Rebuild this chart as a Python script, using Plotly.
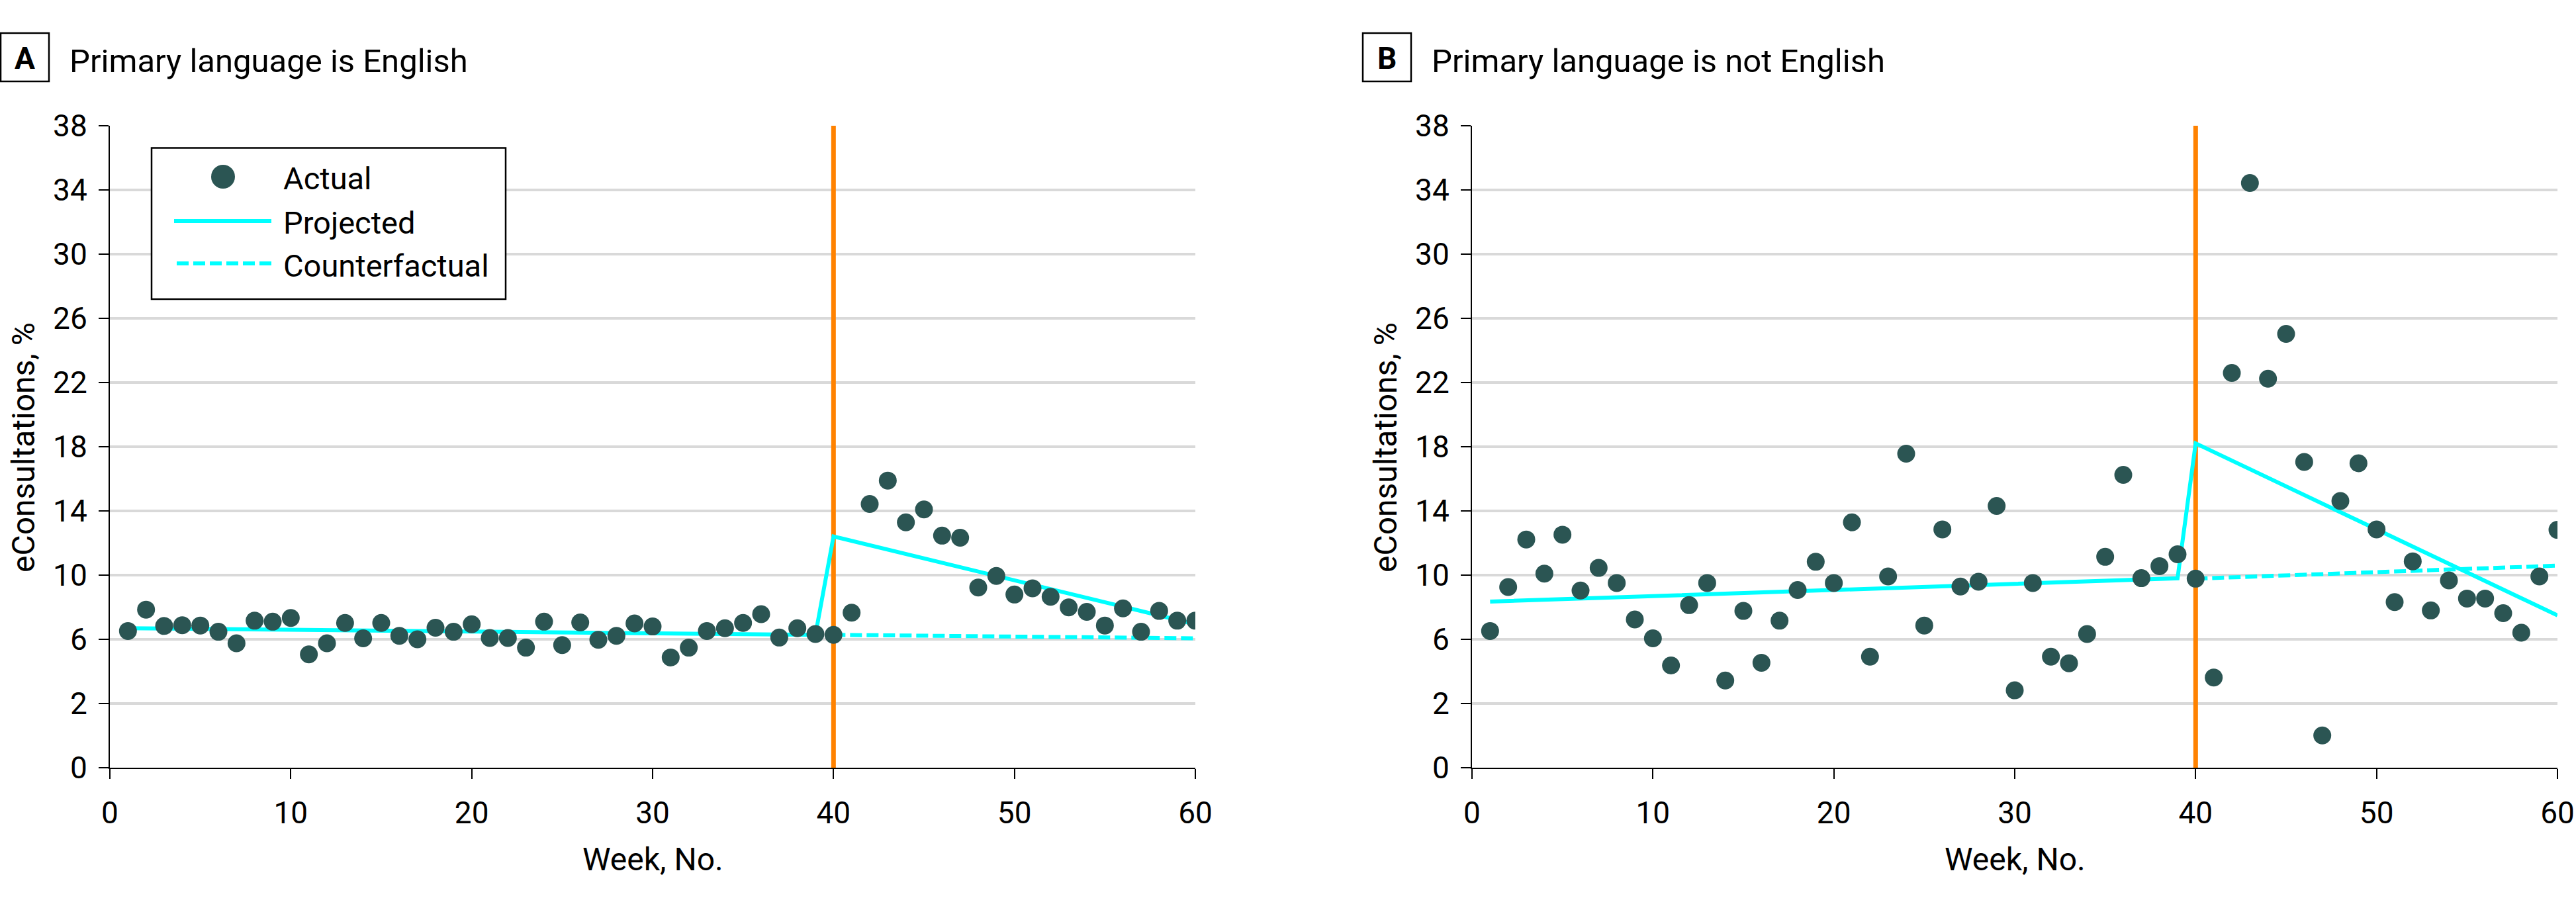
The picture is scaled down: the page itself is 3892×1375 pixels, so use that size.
import plotly.graph_objects as go

# ---------------- data ----------------
weeks = list(range(1, 61))

english_actual = [6.52, 7.85, 6.83, 6.88, 6.86, 6.47, 5.75, 7.16, 7.10, 7.33,
                  5.06, 5.75, 7.02, 6.06, 7.02, 6.22, 6.00, 6.72, 6.47, 6.94,
                  6.08, 6.08, 5.48, 7.10, 5.64, 7.05, 5.97, 6.22, 6.99, 6.80,
                  4.87, 5.48, 6.52, 6.69, 7.02, 7.57, 6.11, 6.69, 6.33, 6.28,
                  7.66, 14.43, 15.89, 13.29, 14.09, 12.46, 12.33, 9.23, 9.95, 8.79,
                  9.18, 8.65, 7.99, 7.71, 6.86, 7.93, 6.47, 7.77, 7.16, 7.16]
english_proj_weeks = [1, 39, 40, 60]
english_proj = [6.69, 6.28, 12.41, 6.94]
english_cf_weeks = [40, 60]
english_cf = [6.28, 6.06]

other_actual = [6.52, 9.26, 12.22, 10.09, 12.52, 9.04, 10.45, 9.51, 7.24, 6.06,
                4.37, 8.13, 9.51, 3.43, 7.77, 4.54, 7.16, 9.07, 10.83, 9.51,
                13.29, 4.92, 9.92, 17.57, 6.86, 12.85, 9.29, 9.59, 14.31, 2.82,
                9.51, 4.92, 4.51, 6.33, 11.14, 16.25, 9.81, 10.56, 11.30, 9.78,
                3.62, 22.60, 34.43, 22.24, 25.03, 17.05, 0.01, 14.62, 16.97, 12.85,
                8.32, 10.86, 7.80, 9.67, 8.54, 8.54, 7.63, 6.41, 9.92, 12.82]
other_proj_weeks = [1, 39, 40, 60]
other_proj = [8.35, 9.80, 18.21, 7.49]
other_cf_weeks = [40, 60]
other_cf = [9.78, 10.59]

intervention_week = 40
y_span = [-2, 38]
y_tickvals = [-2, 2, 6, 10, 14, 18, 22, 26, 30, 34, 38]
y_ticktext = ["0", "2", "6", "10", "14", "18", "22", "26", "30", "34", "38"]
x_tickvals = [0, 10, 20, 30, 40, 50, 60]

panel_letters = ["A", "B"]
panel_titles = ["Primary language is English", "Primary language is not English"]
legend_labels = ["Actual", "Projected", "Counterfactual"]

# ---------------- style ----------------
W, H = 3892, 1375
FONT = "Roboto"
DOT = "#2B5553"
CYAN = "#00FFFF"
ORANGE = "#FF8200"
GRID = "#D9D9D9"
DASH = "18px,7px"


def px(x):
    return x / W


def py(y):
    return 1 - y / H


fig = go.Figure()

panels = [
    (english_actual, english_proj_weeks, english_proj, english_cf_weeks, english_cf),
    (other_actual, other_proj_weeks, other_proj, other_cf_weeks, other_cf),
]
axis_names = [("x", "y"), ("x2", "y2")]

for (actual, pw, pv, cw, cv), (xa, ya) in zip(panels, axis_names):
    fig.add_trace(go.Scatter(x=[intervention_week, intervention_week], y=y_span,
                             mode="lines", line=dict(color=ORANGE, width=7),
                             xaxis=xa, yaxis=ya, showlegend=False, hoverinfo="skip"))
    fig.add_trace(go.Scatter(x=pw, y=pv, mode="lines",
                             line=dict(color=CYAN, width=6),
                             xaxis=xa, yaxis=ya, showlegend=False))
    fig.add_trace(go.Scatter(x=cw, y=cv, mode="lines",
                             line=dict(color=CYAN, width=6, dash=DASH),
                             xaxis=xa, yaxis=ya, showlegend=False))
    fig.add_trace(go.Scatter(x=weeks, y=actual, mode="markers",
                             marker=dict(color=DOT, size=27, line=dict(width=0)),
                             xaxis=xa, yaxis=ya, showlegend=False))

xdomA = [px(166), px(1806)]
xdomB = [px(2224), px(3864)]
ydom = [py(1160), py(190)]

common_x = dict(range=[0, 60], tickvals=x_tickvals, showgrid=False, zeroline=False,
                showline=True, linecolor="black", linewidth=2, automargin=False,
                ticks="outside", ticklen=15, tickwidth=2, tickcolor="black",
                tickfont=dict(family=FONT, size=46, color="black"),
                ticklabelstandoff=12, fixedrange=True)
common_y = dict(range=y_span, tickvals=y_tickvals, ticktext=y_ticktext,
                showgrid=True, gridcolor=GRID, gridwidth=3.5, zeroline=False,
                showline=True, linecolor="black", linewidth=2, automargin=False,
                ticks="outside", ticklen=15, tickwidth=2, tickcolor="black",
                tickfont=dict(family=FONT, size=46, color="black"),
                ticklabelstandoff=8, fixedrange=True)

fig.update_layout(
    template="none",
    width=W, height=H,
    autosize=False,
    margin=dict(l=0, r=0, t=0, b=0, pad=0, autoexpand=False),
    paper_bgcolor="white", plot_bgcolor="white",
    showlegend=False,
    font=dict(family=FONT, color="black"),
    xaxis=dict(domain=xdomA, anchor="y", **common_x),
    yaxis=dict(domain=ydom, anchor="x", **common_y),
    xaxis2=dict(domain=xdomB, anchor="y2", **common_x),
    yaxis2=dict(domain=ydom, anchor="x2", **common_y),
)

shapes = []
annotations = []
offsets = [0, 2058]
for letter, title, off in zip(panel_letters, panel_titles, offsets):
    shapes.append(dict(type="rect", xref="paper", yref="paper",
                       x0=px(1 + off), x1=px(74 + off), y0=py(123), y1=py(50),
                       line=dict(color="black", width=2.5), fillcolor="rgba(0,0,0,0)"))
    annotations.append(dict(text="<b>%s</b>" % letter, xref="paper", yref="paper",
                            x=px(37.5 + off), y=py(88), xanchor="center", yanchor="middle",
                            showarrow=False, font=dict(family=FONT, size=46, color="black")))
    annotations.append(dict(text=title, xref="paper", yref="paper",
                            x=px(103 + off), y=py(92), xanchor="left", yanchor="middle",
                            showarrow=False, font=dict(family=FONT, size=49, color="black")))
    annotations.append(dict(text="eConsultations, %", xref="paper", yref="paper",
                            x=px(35 + off), y=py(676), xanchor="center", yanchor="middle",
                            textangle=-90, showarrow=False,
                            font=dict(family=FONT, size=48, color="black")))
    annotations.append(dict(text="Week, No.", xref="paper", yref="paper",
                            x=px(986 + off), y=py(1298), xanchor="center", yanchor="middle",
                            showarrow=False, font=dict(family=FONT, size=48, color="black")))

# legend (panel A)
shapes.append(dict(type="rect", xref="paper", yref="paper",
                   x0=px(229), x1=px(764), y0=py(452), y1=py(223.5),
                   line=dict(color="black", width=2.5), fillcolor="white", layer="above"))
shapes.append(dict(type="circle", xref="paper", yref="paper",
                   x0=px(319), x1=px(355), y0=py(285), y1=py(249),
                   fillcolor=DOT, line=dict(width=0), layer="above"))
shapes.append(dict(type="line", xref="paper", yref="paper",
                   x0=px(263), x1=px(410), y0=py(334), y1=py(334),
                   line=dict(color=CYAN, width=6), layer="above"))
shapes.append(dict(type="line", xref="paper", yref="paper",
                   x0=px(267), x1=px(410), y0=py(398), y1=py(398),
                   line=dict(color=CYAN, width=6, dash=DASH), layer="above"))
for lab, yy in zip(legend_labels, [267, 334, 398]):
    annotations.append(dict(text=lab, xref="paper", yref="paper",
                            x=px(426), y=py(yy + 3), xanchor="left", yanchor="middle",
                            showarrow=False, font=dict(family=FONT, size=47, color="black")))

fig.update_layout(shapes=shapes, annotations=annotations)

fig.write_html(
    "out.html",
    config={"displayModeBar": False, "staticPlot": True},
    post_script="document.body.style.margin='0';document.body.style.padding='0';"
                "document.body.style.overflow='hidden';",
)
